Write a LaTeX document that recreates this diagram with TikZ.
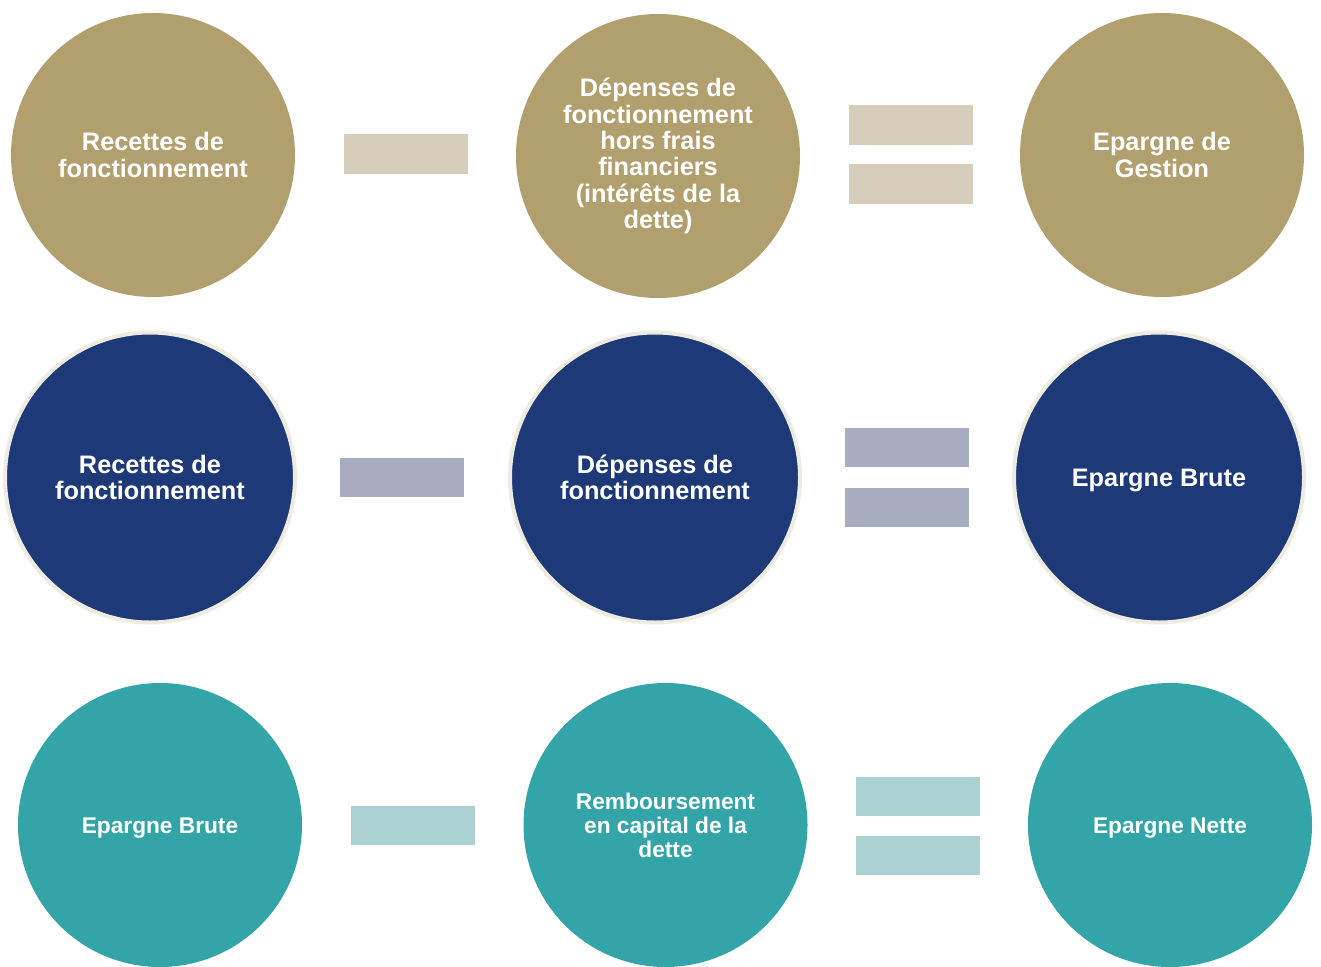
\documentclass[tikz,border=0pt]{standalone}
\usepackage{fontspec}
\setmainfont{Liberation Sans}
\definecolor{gold}{RGB}{178,159,110}
\definecolor{goldbar}{RGB}{214,205,186}
\definecolor{navy}{RGB}{30,57,120}
\definecolor{navybar}{RGB}{169,173,194}
\definecolor{teal}{RGB}{51,165,168}
\definecolor{tealbar}{RGB}{171,209,211}
\definecolor{cream}{RGB}{238,235,225}
\tikzset{
  disc/.style={circle, minimum size=284pt, inner sep=0pt, text=white, align=center,
    font=\bfseries\fontsize{25.3}{26.4}\selectfont},
  golddisc/.style={disc, fill=gold},
  navydisc/.style={disc, fill=navy, draw=cream, line width=4pt, minimum size=290pt},
  tealdisc/.style={disc, fill=teal, font=\bfseries\fontsize{22.7}{24}\selectfont},
  bar/.style={rectangle, minimum width=124pt, minimum height=40pt, inner sep=0pt},
}
\begin{document}
\begin{tikzpicture}[x=1pt,y=-1pt]
\useasboundingbox (0,0) rectangle (1321,966);
\clip (0,0) rectangle (1321,966);
% Row 1
\node[golddisc] (r1a) at (153,155) {Recettes de\\fonctionnement};
\node[golddisc] (r1b) at (658,156) {Dépenses de\\fonctionnement\\hors frais\\financiers\\(intérêts de la\\dette)};
\node[golddisc] (r1c) at (1162,155) {Epargne de\\Gestion};
\node[bar, fill=goldbar] (m1) at (406,154) {};
\node[bar, fill=goldbar] (e1a) at (910.5,125) {};
\node[bar, fill=goldbar] (e1b) at (910.5,184) {};
% Row 2
\node[navydisc] (r2a) at (150,477.5) {Recettes de\\fonctionnement};
\node[navydisc] (r2b) at (655,477.5) {Dépenses de\\fonctionnement};
\node[navydisc] (r2c) at (1159,477.5) {};
\node[text=white, font=\bfseries\fontsize{25.3}{26.4}\selectfont] (t2c) at (1159,480.5) {Epargne Brute};
\node[bar, fill=navybar, minimum height=39pt] (m2) at (402,477.5) {};
\node[bar, fill=navybar, minimum height=39pt] (e2a) at (906.5,447.5) {};
\node[bar, fill=navybar, minimum height=39pt] (e2b) at (906.5,507.5) {};
% Row 3
\node[tealdisc] (r3a) at (160,825) {};
\node[text=white, font=\bfseries\fontsize{22.7}{24}\selectfont] (t3a) at (160,828.5) {Epargne Brute};
\node[tealdisc] (r3b) at (665.5,825) {Remboursement\\en capital de la\\dette};
\node[tealdisc] (r3c) at (1170,825) {};
\node[text=white, font=\bfseries\fontsize{22.7}{24}\selectfont] (t3c) at (1170,828.5) {Epargne Nette};
\node[bar, fill=tealbar, minimum height=39pt] (m3) at (413,825.5) {};
\node[bar, fill=tealbar, minimum height=39pt] (e3a) at (917.5,796.5) {};
\node[bar, fill=tealbar, minimum height=39pt] (e3b) at (917.5,855.5) {};
\end{tikzpicture}
\end{document}
